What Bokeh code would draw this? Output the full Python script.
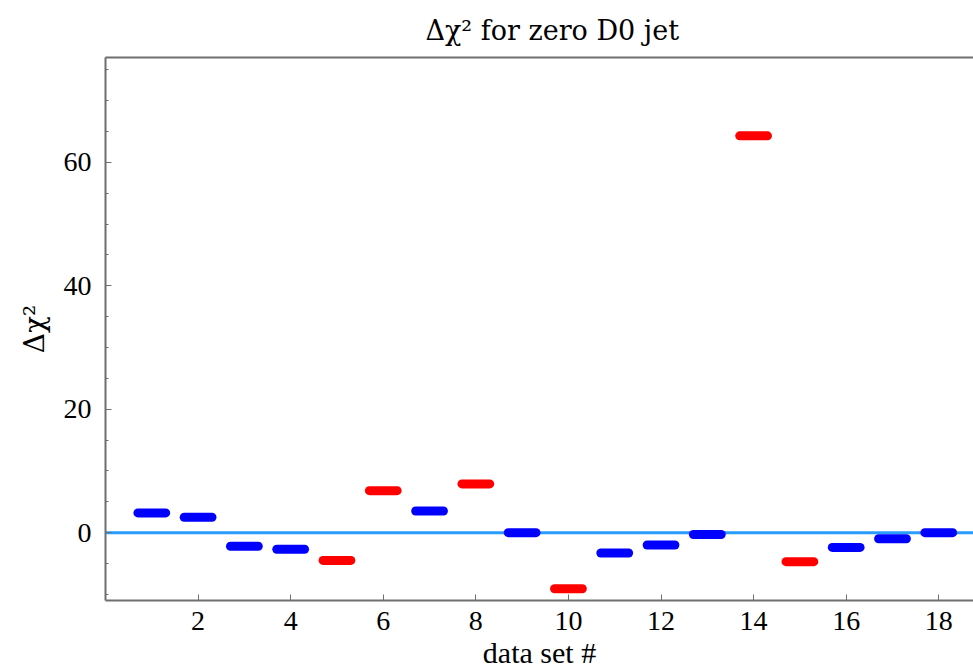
from bokeh.plotting import figure
from bokeh.models import (Range1d, FixedTicker, LinearAxis, Span, ColumnDataSource)
from bokeh.embed import file_html
from bokeh.resources import INLINE

# Change in chi^2 per data set when the D0 jet data are given zero weight
data_sets = list(range(1, 19))
delta_chi2 = [3.2, 2.5, -2.2, -2.7, -4.5, 6.8, 3.5, 7.9, 0.0,
              -9.1, -3.3, -2.0, -0.3, 64.3, -4.7, -2.4, -1.0, 0.0]
jet_sets = [5, 6, 8, 10, 14, 15]          # data sets drawn in red
x_ticks = [2, 4, 6, 8, 10, 12, 14, 16, 18]
y_ticks = [0, 20, 40, 60]
y_minor = [-10, -5, 5, 10, 15, 25, 30, 35, 45, 50, 55, 65, 70, 75]

half = 0.3
colors = ["#ff0000" if d in jet_sets else "#0000ff" for d in data_sets]
src = ColumnDataSource(dict(
    x0=[d - half for d in data_sets],
    x1=[d + half for d in data_sets],
    y=delta_chi2,
    c=colors,
))

FONT = "Liberation Serif"
GREEK_FONT = "DejaVu Serif"   # carries the Greek glyphs
AXIS_GREY = "#6e6e6e"

p = figure(width=973, height=671, output_backend="svg", toolbar_location=None,
           x_range=Range1d(0, 18.75), y_range=Range1d(-11, 77),
           title="Δχ² for zero D0 jet",
           min_border_left=105, min_border_right=0,
           min_border_top=56, min_border_bottom=71)
p.outline_line_color = None
p.xgrid.visible = False
p.ygrid.visible = False
p.background_fill_color = "white"
p.border_fill_color = "white"

p.title.align = "left"
p.title.offset = 320
p.title.text_font = GREEK_FONT
p.title.text_font_size = "27px"
p.title.text_font_style = "normal"
p.title.text_color = "black"
p.title.text_line_height = 1.0
p.title.standoff = 24

zero = Span(location=0, dimension="width", line_color="#2b9cff",
            line_width=3, level="underlay")
p.add_layout(zero)

p.segment(x0="x0", x1="x1", y0="y", y1="y", source=src,
          line_color="c", line_width=9, line_cap="round")

for ax in (p.xaxis[0], p.yaxis[0]):
    ax.axis_line_color = AXIS_GREY
    ax.axis_line_width = 2
    ax.major_tick_line_color = AXIS_GREY
    ax.minor_tick_line_color = AXIS_GREY
    ax.major_tick_in = 6
    ax.major_tick_out = 0
    ax.minor_tick_in = 3
    ax.minor_tick_out = 0
    ax.major_label_text_font = FONT
    ax.major_label_text_font_size = "28px"
    ax.major_label_text_color = "black"
    ax.axis_label_text_font = FONT
    ax.axis_label_text_font_size = "30px"
    ax.axis_label_text_font_style = "normal"
    ax.axis_label_text_color = "black"

p.xaxis[0].ticker = FixedTicker(ticks=x_ticks)
p.xaxis[0].axis_label = "data set #"
p.xaxis[0].major_label_standoff = 11
p.xaxis[0].axis_label_standoff = 3

p.yaxis[0].ticker = FixedTicker(ticks=y_ticks, minor_ticks=y_minor)
p.yaxis[0].axis_label = "Δχ²"
p.yaxis[0].axis_label_text_font = GREEK_FONT
p.yaxis[0].axis_label_text_font_size = "28px"
p.yaxis[0].major_label_standoff = 14
p.yaxis[0].axis_label_standoff = 10

# plain top border of the frame
top = LinearAxis(ticker=FixedTicker(ticks=[]), axis_line_color=AXIS_GREY,
                 axis_line_width=2, major_tick_out=0, major_tick_in=0,
                 minor_tick_out=0, minor_tick_in=0, major_label_standoff=0,
                 major_label_text_font_size="0px")
p.add_layout(top, "above")

open("out.html", "w").write(file_html(p, INLINE))
